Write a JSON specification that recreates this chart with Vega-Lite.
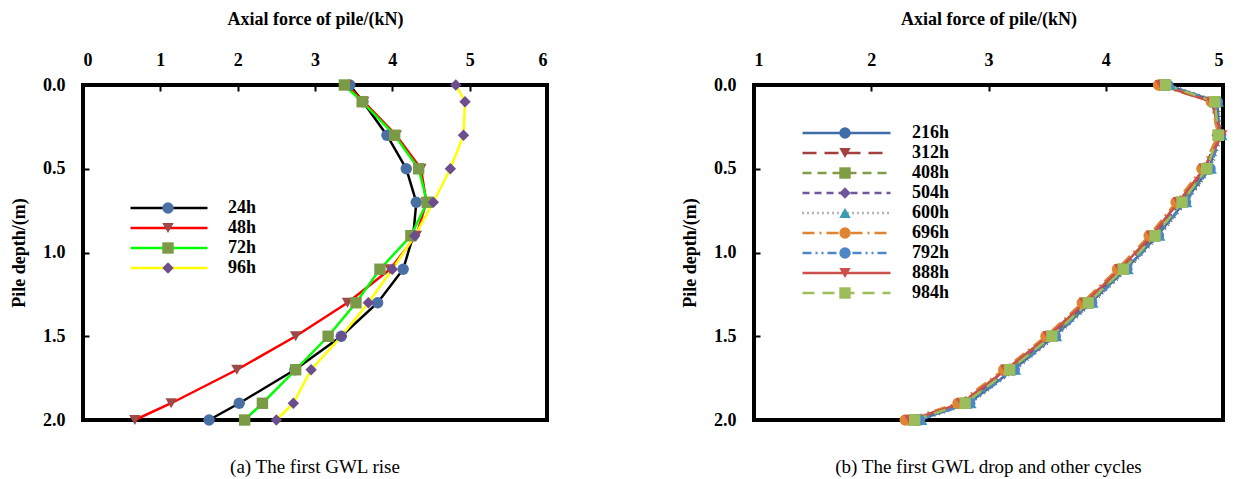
{
  "$schema": "https://vega.github.io/schema/vega-lite/v6.json",
  "padding": {"left": 8, "top": 8, "right": 0, "bottom": 0},
  "spacing": 129,
  "resolve": {
    "scale": {"stroke": "independent", "fill": "independent", "shape": "independent", "strokeDash": "independent"},
    "legend": {"stroke": "independent", "fill": "independent", "shape": "independent", "strokeDash": "independent"}
  },
  "config": {
    "font": "Liberation Serif",
    "view": {"stroke": "black", "strokeWidth": 4},
    "axis": {
      "domain": false, "grid": false,
      "labelFont": "Liberation Serif", "labelFontSize": 18, "labelFontWeight": "bold", "labelColor": "black",
      "titleFont": "Liberation Serif", "titleFontSize": 18, "titleFontWeight": "bold", "titleColor": "black",
      "tickColor": "black", "tickWidth": 2, "tickSize": -6
    },
    "title": {"font": "Liberation Serif", "fontSize": 19, "fontWeight": "normal", "color": "black", "orient": "bottom", "anchor": "middle", "frame": "group", "offset": 29}
  },
  "datasets": {
    "rise": [
      {"series": "24h", "depth": 0, "force": 3.45}, {"series": "24h", "depth": 0.1, "force": 3.62}, {"series": "24h", "depth": 0.3, "force": 3.93}, {"series": "24h", "depth": 0.5, "force": 4.18}, {"series": "24h", "depth": 0.7, "force": 4.31}, {"series": "24h", "depth": 0.9, "force": 4.27}, {"series": "24h", "depth": 1.1, "force": 4.14}, {"series": "24h", "depth": 1.3, "force": 3.81}, {"series": "24h", "depth": 1.5, "force": 3.34}, {"series": "24h", "depth": 1.7, "force": 2.74}, {"series": "24h", "depth": 1.9, "force": 2.02}, {"series": "24h", "depth": 2.0, "force": 1.63},
      {"series": "48h", "depth": 0, "force": 3.41}, {"series": "48h", "depth": 0.1, "force": 3.63}, {"series": "48h", "depth": 0.3, "force": 4.05}, {"series": "48h", "depth": 0.5, "force": 4.37}, {"series": "48h", "depth": 0.7, "force": 4.44}, {"series": "48h", "depth": 0.9, "force": 4.31}, {"series": "48h", "depth": 1.1, "force": 3.97}, {"series": "48h", "depth": 1.3, "force": 3.42}, {"series": "48h", "depth": 1.5, "force": 2.75}, {"series": "48h", "depth": 1.7, "force": 1.99}, {"series": "48h", "depth": 1.9, "force": 1.14}, {"series": "48h", "depth": 2.0, "force": 0.67},
      {"series": "72h", "depth": 0, "force": 3.38}, {"series": "72h", "depth": 0.1, "force": 3.61}, {"series": "72h", "depth": 0.3, "force": 4.03}, {"series": "72h", "depth": 0.5, "force": 4.34}, {"series": "72h", "depth": 0.7, "force": 4.45}, {"series": "72h", "depth": 0.9, "force": 4.24}, {"series": "72h", "depth": 1.1, "force": 3.84}, {"series": "72h", "depth": 1.3, "force": 3.53}, {"series": "72h", "depth": 1.5, "force": 3.17}, {"series": "72h", "depth": 1.7, "force": 2.75}, {"series": "72h", "depth": 1.9, "force": 2.32}, {"series": "72h", "depth": 2.0, "force": 2.09},
      {"series": "96h", "depth": 0, "force": 4.82}, {"series": "96h", "depth": 0.1, "force": 4.94}, {"series": "96h", "depth": 0.3, "force": 4.92}, {"series": "96h", "depth": 0.5, "force": 4.75}, {"series": "96h", "depth": 0.7, "force": 4.53}, {"series": "96h", "depth": 0.9, "force": 4.29}, {"series": "96h", "depth": 1.1, "force": 4.0}, {"series": "96h", "depth": 1.3, "force": 3.69}, {"series": "96h", "depth": 1.5, "force": 3.34}, {"series": "96h", "depth": 1.7, "force": 2.95}, {"series": "96h", "depth": 1.9, "force": 2.72}, {"series": "96h", "depth": 2.0, "force": 2.5}
    ],
    "drop": [
      {"series": "216h", "depth": 0, "force": 4.52}, {"series": "216h", "depth": 0.1, "force": 4.95}, {"series": "216h", "depth": 0.3, "force": 4.97}, {"series": "216h", "depth": 0.5, "force": 4.88}, {"series": "216h", "depth": 0.7, "force": 4.67}, {"series": "216h", "depth": 0.9, "force": 4.44}, {"series": "216h", "depth": 1.1, "force": 4.17}, {"series": "216h", "depth": 1.3, "force": 3.87}, {"series": "216h", "depth": 1.5, "force": 3.56}, {"series": "216h", "depth": 1.7, "force": 3.21}, {"series": "216h", "depth": 1.9, "force": 2.83}, {"series": "216h", "depth": 2.0, "force": 2.4},
      {"series": "312h", "depth": 0, "force": 4.47}, {"series": "312h", "depth": 0.1, "force": 4.91}, {"series": "312h", "depth": 0.3, "force": 4.97}, {"series": "312h", "depth": 0.5, "force": 4.84}, {"series": "312h", "depth": 0.7, "force": 4.62}, {"series": "312h", "depth": 0.9, "force": 4.39}, {"series": "312h", "depth": 1.1, "force": 4.12}, {"series": "312h", "depth": 1.3, "force": 3.82}, {"series": "312h", "depth": 1.5, "force": 3.51}, {"series": "312h", "depth": 1.7, "force": 3.15}, {"series": "312h", "depth": 1.9, "force": 2.77}, {"series": "312h", "depth": 2.0, "force": 2.33},
      {"series": "408h", "depth": 0, "force": 4.5}, {"series": "408h", "depth": 0.1, "force": 4.93}, {"series": "408h", "depth": 0.3, "force": 4.96}, {"series": "408h", "depth": 0.5, "force": 4.86}, {"series": "408h", "depth": 0.7, "force": 4.65}, {"series": "408h", "depth": 0.9, "force": 4.42}, {"series": "408h", "depth": 1.1, "force": 4.15}, {"series": "408h", "depth": 1.3, "force": 3.85}, {"series": "408h", "depth": 1.5, "force": 3.54}, {"series": "408h", "depth": 1.7, "force": 3.18}, {"series": "408h", "depth": 1.9, "force": 2.8}, {"series": "408h", "depth": 2.0, "force": 2.36},
      {"series": "504h", "depth": 0, "force": 4.48}, {"series": "504h", "depth": 0.1, "force": 4.92}, {"series": "504h", "depth": 0.3, "force": 4.95}, {"series": "504h", "depth": 0.5, "force": 4.85}, {"series": "504h", "depth": 0.7, "force": 4.64}, {"series": "504h", "depth": 0.9, "force": 4.41}, {"series": "504h", "depth": 1.1, "force": 4.14}, {"series": "504h", "depth": 1.3, "force": 3.84}, {"series": "504h", "depth": 1.5, "force": 3.53}, {"series": "504h", "depth": 1.7, "force": 3.17}, {"series": "504h", "depth": 1.9, "force": 2.79}, {"series": "504h", "depth": 2.0, "force": 2.35},
      {"series": "600h", "depth": 0, "force": 4.55}, {"series": "600h", "depth": 0.1, "force": 4.96}, {"series": "600h", "depth": 0.3, "force": 4.99}, {"series": "600h", "depth": 0.5, "force": 4.9}, {"series": "600h", "depth": 0.7, "force": 4.69}, {"series": "600h", "depth": 0.9, "force": 4.46}, {"series": "600h", "depth": 1.1, "force": 4.19}, {"series": "600h", "depth": 1.3, "force": 3.89}, {"series": "600h", "depth": 1.5, "force": 3.58}, {"series": "600h", "depth": 1.7, "force": 3.23}, {"series": "600h", "depth": 1.9, "force": 2.85}, {"series": "600h", "depth": 2.0, "force": 2.43},
      {"series": "696h", "depth": 0, "force": 4.45}, {"series": "696h", "depth": 0.1, "force": 4.9}, {"series": "696h", "depth": 0.3, "force": 4.96}, {"series": "696h", "depth": 0.5, "force": 4.82}, {"series": "696h", "depth": 0.7, "force": 4.6}, {"series": "696h", "depth": 0.9, "force": 4.37}, {"series": "696h", "depth": 1.1, "force": 4.1}, {"series": "696h", "depth": 1.3, "force": 3.8}, {"series": "696h", "depth": 1.5, "force": 3.49}, {"series": "696h", "depth": 1.7, "force": 3.13}, {"series": "696h", "depth": 1.9, "force": 2.74}, {"series": "696h", "depth": 2.0, "force": 2.29},
      {"series": "792h", "depth": 0, "force": 4.53}, {"series": "792h", "depth": 0.1, "force": 4.95}, {"series": "792h", "depth": 0.3, "force": 4.98}, {"series": "792h", "depth": 0.5, "force": 4.89}, {"series": "792h", "depth": 0.7, "force": 4.68}, {"series": "792h", "depth": 0.9, "force": 4.45}, {"series": "792h", "depth": 1.1, "force": 4.18}, {"series": "792h", "depth": 1.3, "force": 3.88}, {"series": "792h", "depth": 1.5, "force": 3.57}, {"series": "792h", "depth": 1.7, "force": 3.22}, {"series": "792h", "depth": 1.9, "force": 2.84}, {"series": "792h", "depth": 2.0, "force": 2.41},
      {"series": "888h", "depth": 0, "force": 4.47}, {"series": "888h", "depth": 0.1, "force": 4.9}, {"series": "888h", "depth": 0.3, "force": 4.99}, {"series": "888h", "depth": 0.5, "force": 4.84}, {"series": "888h", "depth": 0.7, "force": 4.62}, {"series": "888h", "depth": 0.9, "force": 4.39}, {"series": "888h", "depth": 1.1, "force": 4.12}, {"series": "888h", "depth": 1.3, "force": 3.82}, {"series": "888h", "depth": 1.5, "force": 3.51}, {"series": "888h", "depth": 1.7, "force": 3.15}, {"series": "888h", "depth": 1.9, "force": 2.77}, {"series": "888h", "depth": 2.0, "force": 2.33},
      {"series": "984h", "depth": 0, "force": 4.51}, {"series": "984h", "depth": 0.1, "force": 4.93}, {"series": "984h", "depth": 0.3, "force": 4.96}, {"series": "984h", "depth": 0.5, "force": 4.86}, {"series": "984h", "depth": 0.7, "force": 4.65}, {"series": "984h", "depth": 0.9, "force": 4.42}, {"series": "984h", "depth": 1.1, "force": 4.15}, {"series": "984h", "depth": 1.3, "force": 3.85}, {"series": "984h", "depth": 1.5, "force": 3.54}, {"series": "984h", "depth": 1.7, "force": 3.18}, {"series": "984h", "depth": 1.9, "force": 2.8}, {"series": "984h", "depth": 2.0, "force": 2.37}
    ]
  },
  "hconcat": [
    {
      "width": 464,
      "height": 335,
      "title": {"text": "(a) The first GWL rise"},
      "data": {"name": "rise"},
      "encoding": {
        "x": {"field": "force", "type": "quantitative", "scale": {"domain": [0, 6], "nice": false, "zero": false},
              "axis": {"orient": "top", "values": [0, 1, 2, 3, 4, 5, 6], "title": "Axial force of pile/(kN)", "labelPadding": 22, "titlePadding": 23}},
        "y": {"field": "depth", "type": "quantitative", "scale": {"domain": [0, 2], "reverse": true, "nice": false},
              "axis": {"values": [0, 0.5, 1, 1.5, 2], "format": ".1f", "title": "Pile depth/(m)", "labelPadding": 24, "titlePadding": 14}}
      },
      "layer": [
        {
          "mark": {"type": "line", "strokeWidth": 2.5},
          "encoding": {
            "order": {"field": "depth", "type": "quantitative"},
            "stroke": {"field": "series", "type": "nominal",
              "scale": {"domain": ["24h", "48h", "72h", "96h"], "range": ["#000000", "#FF0000", "#00FF00", "#FFFF00"]},
              "legend": {"title": null, "orient": "none", "legendX": 46, "legendY": 113, "symbolType": "stroke", "symbolSize": 5929, "symbolStrokeWidth": 2.5, "clipHeight": 20, "rowPadding": 0, "padding": 0, "labelFont": "Liberation Serif", "labelFontSize": 18, "labelFontWeight": "bold", "labelColor": "black", "labelOffset": 19}}
          }
        },
        {
          "mark": {"type": "point", "filled": true, "opacity": 1, "size": 130, "strokeWidth": 0},
          "encoding": {
            "fill": {"field": "series", "type": "nominal",
              "scale": {"range": ["#4A6FA5", "#9B4A47", "#7A9A45", "#6B4E8B"]},
              "legend": {"title": null, "orient": "none", "legendX": 79, "legendY": 113, "symbolSize": 130, "symbolStrokeWidth": 0, "clipHeight": 20, "rowPadding": 0, "padding": 0, "labelOpacity": 0}},
            "shape": {"field": "series", "type": "nominal",
              "scale": {"range": ["circle", "triangle-down", "square", "diamond"]},
              "legend": {"title": null, "orient": "none", "legendX": 79, "legendY": 113, "symbolSize": 130, "symbolStrokeWidth": 0, "clipHeight": 20, "rowPadding": 0, "padding": 0, "labelOpacity": 0}}
          }
        }
      ]
    },
    {
      "width": 469,
      "height": 335,
      "title": {"text": "(b) The first GWL drop and other cycles"},
      "data": {"name": "drop"},
      "encoding": {
        "x": {"field": "force", "type": "quantitative", "scale": {"domain": [1, 5], "nice": false, "zero": false},
              "axis": {"orient": "top", "values": [1, 2, 3, 4, 5], "title": "Axial force of pile/(kN)", "labelPadding": 22, "titlePadding": 23}},
        "y": {"field": "depth", "type": "quantitative", "scale": {"domain": [0, 2], "reverse": true, "nice": false},
              "axis": {"values": [0, 0.5, 1, 1.5, 2], "format": ".1f", "title": "Pile depth/(m)", "labelPadding": 24, "titlePadding": 14}}
      },
      "layer": [
        {
          "mark": {"type": "line", "strokeWidth": 2.5},
          "encoding": {
            "order": {"field": "depth", "type": "quantitative"},
            "stroke": {"field": "series", "type": "nominal",
              "scale": {"domain": ["216h", "312h", "408h", "504h", "600h", "696h", "792h", "888h", "984h"], "range": ["#3E6DA8", "#A1403E", "#7F9D45", "#6E5699", "#666666", "#E08433", "#4F86C6", "#CB4F4B", "#9BBE5A"]},
              "legend": {"title": null, "orient": "none", "legendX": 47, "legendY": 38, "symbolType": "stroke", "symbolSize": 7744, "symbolStrokeWidth": 2.5, "clipHeight": 20, "rowPadding": 0, "padding": 0, "labelFont": "Liberation Serif", "labelFontSize": 18, "labelFontWeight": "bold", "labelColor": "black", "labelOffset": 20}},
            "strokeDash": {"field": "series", "type": "nominal",
              "scale": {"domain": ["216h", "312h", "408h", "504h", "600h", "696h", "792h", "888h", "984h"], "range": [[1, 0], [14, 8], [9, 6], [7, 5], [1, 4], [12, 5, 2, 5], [9, 4, 2, 4, 2, 4], [1, 0], [12, 8]]},
              "legend": {"title": null, "orient": "none", "legendX": 47, "legendY": 38, "symbolType": "stroke", "symbolSize": 7744, "symbolStrokeWidth": 2.5, "clipHeight": 20, "rowPadding": 0, "padding": 0, "labelFont": "Liberation Serif", "labelFontSize": 18, "labelFontWeight": "bold", "labelColor": "black", "labelOffset": 20}}
          }
        },
        {
          "mark": {"type": "point", "filled": true, "opacity": 1, "size": 130, "strokeWidth": 0},
          "encoding": {
            "fill": {"field": "series", "type": "nominal",
              "scale": {"range": ["#3E6DA8", "#A1403E", "#7F9D45", "#6E5699", "#3A9BB5", "#E08433", "#4F86C6", "#CB4F4B", "#9BBE5A"]},
              "legend": {"title": null, "orient": "none", "legendX": 85, "legendY": 38, "symbolSize": 130, "symbolStrokeWidth": 0, "clipHeight": 20, "rowPadding": 0, "padding": 0, "labelOpacity": 0}},
            "shape": {"field": "series", "type": "nominal",
              "scale": {"range": ["circle", "triangle-down", "square", "diamond", "triangle-up", "circle", "circle", "triangle-down", "square"]},
              "legend": {"title": null, "orient": "none", "legendX": 85, "legendY": 38, "symbolSize": 130, "symbolStrokeWidth": 0, "clipHeight": 20, "rowPadding": 0, "padding": 0, "labelOpacity": 0}}
          }
        }
      ]
    }
  ]
}
